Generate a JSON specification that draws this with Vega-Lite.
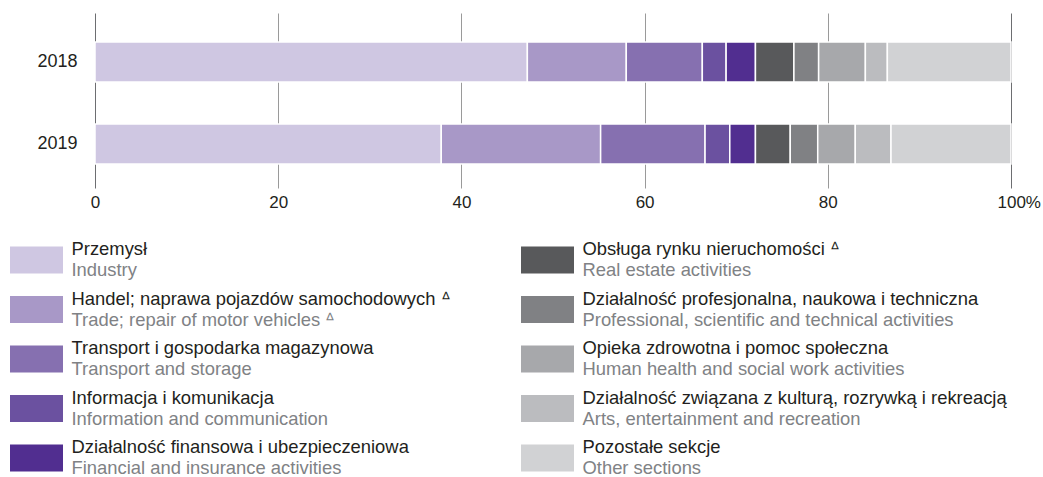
{
  "$schema": "https://vega.github.io/schema/vega-lite/v6.json",
  "padding": {"left": 10, "top": 13, "right": 5, "bottom": 5},
  "spacing": 30,
  "background": "white",
  "config": {"view": {"stroke": null}, "font": "Liberation Sans"},
  "datasets": {
    "shares": [
      {"year": "2018", "k": 1, "sector": "Przemysł", "value": 47.2},
      {"year": "2018", "k": 2, "sector": "Handel; naprawa pojazdów samochodowych", "value": 10.8},
      {"year": "2018", "k": 3, "sector": "Transport i gospodarka magazynowa", "value": 8.3},
      {"year": "2018", "k": 4, "sector": "Informacja i komunikacja", "value": 2.6},
      {"year": "2018", "k": 5, "sector": "Działalność finansowa i ubezpieczeniowa", "value": 3.2},
      {"year": "2018", "k": 6, "sector": "Obsługa rynku nieruchomości", "value": 4.2},
      {"year": "2018", "k": 7, "sector": "Działalność profesjonalna, naukowa i techniczna", "value": 2.7},
      {"year": "2018", "k": 8, "sector": "Opieka zdrowotna i pomoc społeczna", "value": 5.1},
      {"year": "2018", "k": 9, "sector": "Działalność związana z kulturą, rozrywką i rekreacją", "value": 2.4},
      {"year": "2018", "k": 10, "sector": "Pozostałe sekcje", "value": 13.5},
      {"year": "2019", "k": 1, "sector": "Przemysł", "value": 37.8},
      {"year": "2019", "k": 2, "sector": "Handel; naprawa pojazdów samochodowych", "value": 17.4},
      {"year": "2019", "k": 3, "sector": "Transport i gospodarka magazynowa", "value": 11.4},
      {"year": "2019", "k": 4, "sector": "Informacja i komunikacja", "value": 2.7},
      {"year": "2019", "k": 5, "sector": "Działalność finansowa i ubezpieczeniowa", "value": 2.8},
      {"year": "2019", "k": 6, "sector": "Obsługa rynku nieruchomości", "value": 3.8},
      {"year": "2019", "k": 7, "sector": "Działalność profesjonalna, naukowa i techniczna", "value": 3.0},
      {"year": "2019", "k": 8, "sector": "Opieka zdrowotna i pomoc społeczna", "value": 4.1},
      {"year": "2019", "k": 9, "sector": "Działalność związana z kulturą, rozrywką i rekreacją", "value": 3.9},
      {"year": "2019", "k": 10, "sector": "Pozostałe sekcje", "value": 13.1}
    ],
    "legend": [
      {"col": 0, "row": 0, "sector": "Przemysł", "pl": "Przemysł", "en": "Industry"},
      {"col": 0, "row": 1, "sector": "Handel; naprawa pojazdów samochodowych", "pl": "Handel; naprawa pojazdów samochodowych ᐞ", "en": "Trade; repair of motor vehicles ᐞ"},
      {"col": 0, "row": 2, "sector": "Transport i gospodarka magazynowa", "pl": "Transport i gospodarka magazynowa", "en": "Transport and storage"},
      {"col": 0, "row": 3, "sector": "Informacja i komunikacja", "pl": "Informacja i komunikacja", "en": "Information and communication"},
      {"col": 0, "row": 4, "sector": "Działalność finansowa i ubezpieczeniowa", "pl": "Działalność finansowa i ubezpieczeniowa", "en": "Financial and insurance activities"},
      {"col": 1, "row": 0, "sector": "Obsługa rynku nieruchomości", "pl": "Obsługa rynku nieruchomości ᐞ", "en": "Real estate activities"},
      {"col": 1, "row": 1, "sector": "Działalność profesjonalna, naukowa i techniczna", "pl": "Działalność profesjonalna, naukowa i techniczna", "en": "Professional, scientific and technical activities"},
      {"col": 1, "row": 2, "sector": "Opieka zdrowotna i pomoc społeczna", "pl": "Opieka zdrowotna i pomoc społeczna", "en": "Human health and social work activities"},
      {"col": 1, "row": 3, "sector": "Działalność związana z kulturą, rozrywką i rekreacją", "pl": "Działalność związana z kulturą, rozrywką i rekreacją", "en": "Arts, entertainment and recreation"},
      {"col": 1, "row": 4, "sector": "Pozostałe sekcje", "pl": "Pozostałe sekcje", "en": "Other sections"}
    ]
  },
  "vconcat": [
    {
      "width": 916,
      "height": 175,
      "data": {"name": "shares"},
      "mark": {"type": "bar", "stroke": "white", "strokeWidth": 1.5},
      "encoding": {
        "y": {
          "field": "year",
          "type": "nominal",
          "scale": {"paddingInner": 0.512, "paddingOuter": 0.323, "align": 0.547},
          "axis": {"title": null, "ticks": false, "domain": false, "labelPadding": 18, "labelFontSize": 18, "labelColor": "#231f20", "labelFont": "Liberation Sans"}
        },
        "x": {
          "field": "value",
          "type": "quantitative",
          "stack": "zero",
          "scale": {"domain": [0, 100], "nice": false},
          "axis": {
            "title": null,
            "values": [0, 20, 40, 60, 80, 100],
            "ticks": false,
            "domain": false,
            "grid": true,
            "gridColor": {"condition": {"test": "datum.value === 0 || datum.value === 100", "value": "#6d6e71"}, "value": "#9a9a9a"},
            "gridWidth": 1,
            "labelFlush": false,
            "labelPadding": 6,
            "labelFontSize": 17,
            "labelColor": "#231f20",
            "labelFont": "Liberation Sans",
            "labelExpr": "datum.value === 100 ? '100%' : datum.label",
            "labelAlign": {"condition": {"test": "datum.value === 100", "value": "left"}, "value": "center"},
            "labelOffset": {"condition": {"test": "datum.value === 100", "value": -14}, "value": 0}
          }
        },
        "color": {
          "field": "sector",
          "type": "nominal",
          "scale": {
            "domain": ["Przemysł", "Handel; naprawa pojazdów samochodowych", "Transport i gospodarka magazynowa", "Informacja i komunikacja", "Działalność finansowa i ubezpieczeniowa", "Obsługa rynku nieruchomości", "Działalność profesjonalna, naukowa i techniczna", "Opieka zdrowotna i pomoc społeczna", "Działalność związana z kulturą, rozrywką i rekreacją", "Pozostałe sekcje"],
            "range": ["#cfc7e2", "#a898c7", "#8670b0", "#6b51a0", "#512e90", "#58595b", "#808184", "#a7a8ab", "#bbbcbf", "#d1d2d4"]
          },
          "legend": null
        },
        "order": {"field": "k", "type": "quantitative"}
      }
    },
    {
      "width": 916,
      "height": 198,
      "data": {"name": "legend"},
      "encoding": {
        "x": {"field": "col", "type": "quantitative", "scale": {"domain": [0, 1], "range": [-58.5, 452.5]}, "axis": null},
        "y": {"field": "row", "type": "quantitative", "scale": {"domain": [0, 4], "range": [0, 198]}, "axis": null}
      },
      "layer": [
        {
          "mark": {"type": "point", "shape": "M-1,-0.51H1V0.51H-1Z", "size": 2809, "filled": true, "opacity": 1, "strokeWidth": 0},
          "encoding": {
            "color": {
              "field": "sector",
              "type": "nominal",
              "scale": {
                "domain": ["Przemysł", "Handel; naprawa pojazdów samochodowych", "Transport i gospodarka magazynowa", "Informacja i komunikacja", "Działalność finansowa i ubezpieczeniowa", "Obsługa rynku nieruchomości", "Działalność profesjonalna, naukowa i techniczna", "Opieka zdrowotna i pomoc społeczna", "Działalność związana z kulturą, rozrywką i rekreacją", "Pozostałe sekcje"],
                "range": ["#cfc7e2", "#a898c7", "#8670b0", "#6b51a0", "#512e90", "#58595b", "#808184", "#a7a8ab", "#bbbcbf", "#d1d2d4"]
              },
              "legend": null
            }
          }
        },
        {
          "mark": {"type": "text", "align": "left", "baseline": "alphabetic", "dx": 35, "dy": -5, "fontSize": 18.4, "font": "Liberation Sans", "color": "#231f20"},
          "encoding": {"text": {"field": "pl", "type": "nominal"}}
        },
        {
          "mark": {"type": "text", "align": "left", "baseline": "alphabetic", "dx": 35, "dy": 16, "fontSize": 18.4, "font": "Liberation Sans", "color": "#808285"},
          "encoding": {"text": {"field": "en", "type": "nominal"}}
        }
      ]
    }
  ]
}
